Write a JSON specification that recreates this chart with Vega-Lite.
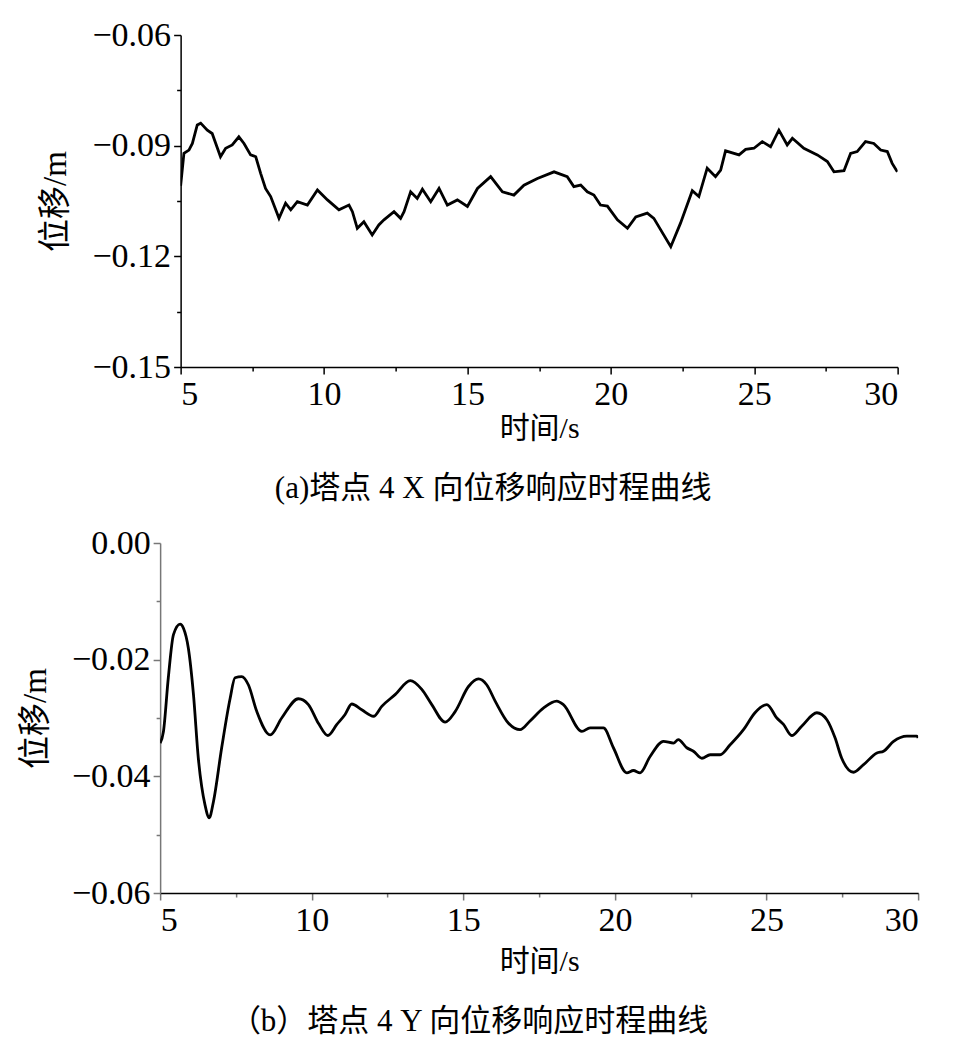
{
  "$schema": "https://vega.github.io/schema/vega-lite/v6.json",
  "background": "white",
  "padding": {"left": 19, "top": 18, "right": 10, "bottom": 10},
  "spacing": 22,
  "center": true,
  "config": {
    "view": {"stroke": null},
    "font": "Liberation Serif, Noto Sans CJK SC",
    "axis": {
      "grid": false,
      "domainColor": "black",
      "domainWidth": 1.5,
      "tickColor": "black",
      "tickWidth": 1.5,
      "labelColor": "black",
      "titleColor": "black",
      "labelFont": "Liberation Serif",
      "labelFontSize": 34,
      "titleFont": "Liberation Serif, Noto Sans CJK SC",
      "titleFontSize": 30,
      "titleFontWeight": "normal",
      "labelPadding": 3
    },
    "axisY": {"titleFontSize": 33, "titlePadding": 19},
    "title": {"font": "Liberation Serif, Noto Sans CJK SC", "fontSize": 31, "fontWeight": "normal", "color": "black"}
  },
  "datasets": {
    "xdir": [
      {"time": 5.0, "disp": -0.1009}, {"time": 5.115, "disp": -0.0921}, {"time": 5.29, "disp": -0.0912},
      {"time": 5.41, "disp": -0.0894}, {"time": 5.58, "disp": -0.0844}, {"time": 5.70, "disp": -0.0839},
      {"time": 5.93, "disp": -0.0858}, {"time": 6.10, "disp": -0.0867}, {"time": 6.39, "disp": -0.0930},
      {"time": 6.57, "disp": -0.0907}, {"time": 6.80, "disp": -0.0898}, {"time": 7.03, "disp": -0.0876},
      {"time": 7.21, "disp": -0.0894}, {"time": 7.44, "disp": -0.0925}, {"time": 7.62, "disp": -0.0930},
      {"time": 7.79, "disp": -0.0975}, {"time": 7.96, "disp": -0.1016}, {"time": 8.14, "disp": -0.1038},
      {"time": 8.43, "disp": -0.1097}, {"time": 8.66, "disp": -0.1056}, {"time": 8.84, "disp": -0.1074},
      {"time": 9.07, "disp": -0.1052}, {"time": 9.42, "disp": -0.1061}, {"time": 9.77, "disp": -0.1020},
      {"time": 10.12, "disp": -0.1047}, {"time": 10.52, "disp": -0.1074}, {"time": 10.87, "disp": -0.1061},
      {"time": 10.99, "disp": -0.1079}, {"time": 11.16, "disp": -0.1124}, {"time": 11.39, "disp": -0.1106},
      {"time": 11.68, "disp": -0.1142}, {"time": 11.91, "disp": -0.1115}, {"time": 12.09, "disp": -0.1101},
      {"time": 12.44, "disp": -0.1079}, {"time": 12.67, "disp": -0.1097}, {"time": 12.79, "disp": -0.1079},
      {"time": 13.02, "disp": -0.1025}, {"time": 13.25, "disp": -0.1043}, {"time": 13.43, "disp": -0.1018},
      {"time": 13.72, "disp": -0.1052}, {"time": 14.01, "disp": -0.1016}, {"time": 14.30, "disp": -0.1061},
      {"time": 14.65, "disp": -0.1047}, {"time": 15.00, "disp": -0.1065}, {"time": 15.35, "disp": -0.1016},
      {"time": 15.81, "disp": -0.0984}, {"time": 16.22, "disp": -0.1025}, {"time": 16.62, "disp": -0.1034},
      {"time": 16.97, "disp": -0.1007}, {"time": 17.44, "disp": -0.0989}, {"time": 18.02, "disp": -0.0971},
      {"time": 18.48, "disp": -0.0984}, {"time": 18.71, "disp": -0.1011}, {"time": 18.95, "disp": -0.1007},
      {"time": 19.18, "disp": -0.1025}, {"time": 19.41, "disp": -0.1034}, {"time": 19.64, "disp": -0.1061},
      {"time": 19.88, "disp": -0.1064}, {"time": 20.23, "disp": -0.1101}, {"time": 20.58, "disp": -0.1124},
      {"time": 20.87, "disp": -0.1093}, {"time": 21.27, "disp": -0.1083}, {"time": 21.50, "disp": -0.1097},
      {"time": 22.09, "disp": -0.1174}, {"time": 22.43, "disp": -0.1110}, {"time": 22.84, "disp": -0.1022},
      {"time": 23.07, "disp": -0.1038}, {"time": 23.36, "disp": -0.0961}, {"time": 23.65, "disp": -0.0984},
      {"time": 23.83, "disp": -0.0966}, {"time": 24.00, "disp": -0.0914}, {"time": 24.47, "disp": -0.0925},
      {"time": 24.70, "disp": -0.0910}, {"time": 24.99, "disp": -0.0907}, {"time": 25.28, "disp": -0.0889},
      {"time": 25.57, "disp": -0.0903}, {"time": 25.86, "disp": -0.0858}, {"time": 26.15, "disp": -0.0898},
      {"time": 26.33, "disp": -0.0880}, {"time": 26.73, "disp": -0.0907}, {"time": 27.20, "disp": -0.0925},
      {"time": 27.55, "disp": -0.0943}, {"time": 27.78, "disp": -0.0971}, {"time": 28.13, "disp": -0.0968},
      {"time": 28.36, "disp": -0.0921}, {"time": 28.59, "disp": -0.0916}, {"time": 28.88, "disp": -0.0889},
      {"time": 29.17, "disp": -0.0894}, {"time": 29.41, "disp": -0.0912}, {"time": 29.64, "disp": -0.0916},
      {"time": 29.81, "disp": -0.0948}, {"time": 29.99, "disp": -0.0971}
    ],
    "ydir": [
      {"time": 5.0, "disp": -0.0343}, {"time": 5.11, "disp": -0.0323}, {"time": 5.27, "disp": -0.0231},
      {"time": 5.44, "disp": -0.0157}, {"time": 5.66, "disp": -0.0139}, {"time": 5.77, "disp": -0.0146},
      {"time": 5.93, "disp": -0.0180}, {"time": 6.10, "disp": -0.0260}, {"time": 6.26, "disp": -0.0369},
      {"time": 6.48, "disp": -0.0449}, {"time": 6.62, "disp": -0.0471}, {"time": 6.76, "disp": -0.0443},
      {"time": 7.03, "disp": -0.0351}, {"time": 7.31, "disp": -0.0266}, {"time": 7.47, "disp": -0.0231},
      {"time": 7.69, "disp": -0.0229}, {"time": 7.91, "disp": -0.0243}, {"time": 8.19, "disp": -0.0289},
      {"time": 8.63, "disp": -0.0329}, {"time": 9.01, "disp": -0.0300}, {"time": 9.56, "disp": -0.0267},
      {"time": 9.89, "disp": -0.0277}, {"time": 10.22, "disp": -0.0309}, {"time": 10.53, "disp": -0.0330},
      {"time": 10.83, "disp": -0.0311}, {"time": 11.10, "disp": -0.0294}, {"time": 11.32, "disp": -0.0276},
      {"time": 11.65, "disp": -0.0286}, {"time": 12.04, "disp": -0.0297}, {"time": 12.31, "disp": -0.0280},
      {"time": 12.75, "disp": -0.0260}, {"time": 13.25, "disp": -0.0236}, {"time": 13.63, "disp": -0.0251},
      {"time": 13.96, "disp": -0.0277}, {"time": 14.40, "disp": -0.0307}, {"time": 14.73, "disp": -0.0289},
      {"time": 15.17, "disp": -0.0246}, {"time": 15.50, "disp": -0.0233}, {"time": 15.77, "disp": -0.0243},
      {"time": 16.05, "disp": -0.0271}, {"time": 16.49, "disp": -0.0309}, {"time": 16.87, "disp": -0.0320},
      {"time": 17.20, "disp": -0.0305}, {"time": 17.64, "disp": -0.0283}, {"time": 18.08, "disp": -0.0271},
      {"time": 18.30, "disp": -0.0277}, {"time": 18.91, "disp": -0.0323}, {"time": 19.18, "disp": -0.0317},
      {"time": 19.62, "disp": -0.0317}, {"time": 19.95, "disp": -0.0351}, {"time": 20.39, "disp": -0.0394},
      {"time": 20.61, "disp": -0.0390}, {"time": 20.83, "disp": -0.0394}, {"time": 21.16, "disp": -0.0366},
      {"time": 21.60, "disp": -0.0340}, {"time": 21.93, "disp": -0.0343}, {"time": 22.09, "disp": -0.0337},
      {"time": 22.37, "disp": -0.0351}, {"time": 22.59, "disp": -0.0357}, {"time": 22.87, "disp": -0.0369},
      {"time": 23.14, "disp": -0.0363}, {"time": 23.47, "disp": -0.0363}, {"time": 23.80, "disp": -0.0346},
      {"time": 24.24, "disp": -0.0320}, {"time": 24.62, "disp": -0.0291}, {"time": 25.01, "disp": -0.0277},
      {"time": 25.34, "disp": -0.0300}, {"time": 25.56, "disp": -0.0311}, {"time": 25.83, "disp": -0.0330},
      {"time": 26.16, "disp": -0.0314}, {"time": 26.66, "disp": -0.0291}, {"time": 26.99, "disp": -0.0303},
      {"time": 27.26, "disp": -0.0334}, {"time": 27.48, "disp": -0.0369}, {"time": 27.87, "disp": -0.0393},
      {"time": 28.20, "disp": -0.0380}, {"time": 28.64, "disp": -0.0360}, {"time": 28.86, "disp": -0.0357},
      {"time": 29.19, "disp": -0.0340}, {"time": 29.63, "disp": -0.0331}, {"time": 29.96, "disp": -0.0331},
      {"time": 30.0, "disp": -0.0334}
    ]
  },
  "vconcat": [
    {
      "width": 717,
      "height": 332,
      "data": {"name": "xdir"},
      "title": {"text": "(a)塔点 4 X 向位移响应时程曲线", "orient": "bottom", "anchor": "middle", "frame": "group", "dx": -46, "offset": 31},
      "mark": {"type": "line", "color": "black", "strokeWidth": 2.8, "clip": true},
      "encoding": {
        "x": {
          "field": "time", "type": "quantitative",
          "scale": {"domain": [5, 30], "nice": false, "zero": false},
          "axis": {
            "title": "时间/s",
            "values": [5, 7.5, 10, 12.5, 15, 17.5, 20, 22.5, 25, 27.5, 30],
            "format": "d",
            "labelExpr": "datum.value % 5 == 0 ? datum.label : ''",
            "tickSize": {"condition": {"test": "datum.value % 5 == 0", "value": 7}, "value": 4},
            "titlePadding": 2
          }
        },
        "y": {
          "field": "disp", "type": "quantitative",
          "scale": {"domain": [-0.15, -0.06], "nice": false, "zero": false},
          "axis": {
            "title": "位移/m",
            "values": [-0.15, -0.135, -0.12, -0.105, -0.09, -0.075, -0.06],
            "format": ".2f",
            "labelExpr": "round(datum.value * 1000) % 30 == 0 ? datum.label : ''",
            "tickSize": {"condition": {"test": "round(datum.value * 1000) % 30 == 0", "value": 7}, "value": 4}
          }
        }
      }
    },
    {
      "width": 758,
      "height": 350,
      "data": {"name": "ydir"},
      "title": {"text": "（b）塔点 4 Y 向位移响应时程曲线", "orient": "bottom", "anchor": "middle", "frame": "group", "dx": -70, "offset": 31},
      "mark": {"type": "line", "color": "black", "strokeWidth": 2.8, "interpolate": "monotone", "clip": true},
      "encoding": {
        "x": {
          "field": "time", "type": "quantitative",
          "scale": {"domain": [5, 30], "nice": false, "zero": false},
          "axis": {
            "title": "时间/s",
            "values": [5, 7.5, 10, 12.5, 15, 17.5, 20, 22.5, 25, 27.5, 30],
            "format": "d",
            "tickColor": "#777",
            "labelExpr": "datum.value % 5 == 0 ? datum.label : ''",
            "tickSize": {"condition": {"test": "datum.value % 5 == 0", "value": 7}, "value": 4},
            "titlePadding": 9
          }
        },
        "y": {
          "field": "disp", "type": "quantitative",
          "scale": {"domain": [-0.06, 0], "nice": false, "zero": false},
          "axis": {
            "title": "位移/m",
            "values": [-0.06, -0.05, -0.04, -0.03, -0.02, -0.01, 0],
            "format": ".2f",
            "domainColor": "#777",
            "tickColor": "#777",
            "labelExpr": "round(datum.value * 100) % 2 == 0 ? datum.label : ''",
            "tickSize": {"condition": {"test": "round(datum.value * 100) % 2 == 0", "value": 7}, "value": 4}
          }
        }
      }
    }
  ]
}
